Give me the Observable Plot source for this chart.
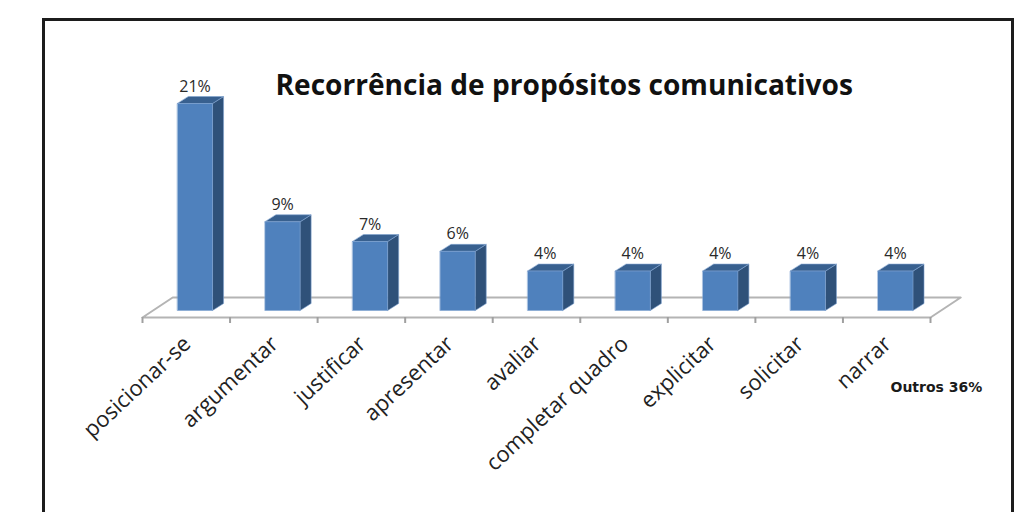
<!DOCTYPE html>
<html lang="pt">
<head>
<meta charset="utf-8">
<script src="https://cdn.jsdelivr.net/npm/d3@7"></script>
<script src="https://cdn.jsdelivr.net/npm/@observablehq/plot@0.6"></script>
<style>
  html, body { margin: 0; padding: 0; background: #fff; overflow: hidden; width: 1035px; height: 512px; }
  #box { position: absolute; left: 42px; top: 18px; width: 966px; height: 600px; border: 3px solid #1c1c1c; }
  #chart { position: absolute; left: 0; top: 0; }
</style>
</head>
<body>
<div id="box"></div>
<div id="chart"></div>
<script>
const categories = ["posicionar-se", "argumentar", "justificar", "apresentar", "avaliar", "completar quadro", "explicitar", "solicitar", "narrar"];
const percentages = [21, 9, 7, 6, 4, 4, 4, 4, 4];
const chartTitle = "Recorrência de propósitos comunicativos";
const otherNote = "Outros 36%";

// Oblique projection: how far a bar's side and the floor recede, in axis units.
const barInset = 0.4, barWidth = 0.4, barDepthX = 0.126, barDepthY = 0.71;
const floorFront = -0.71, floorBack = 1.32, floorShift = 0.345, tickDrop = -0.61;
const slots = categories.length;

const bars = categories.map((name, i) => ({name, i, value: percentages[i], x0: i + barInset, x1: i + barInset + barWidth}));

// Each visible face of a bar is a closed polygon.
const face = (corners) => bars.flatMap((b) => corners(b).map(([x, y]) => ({id: b.name, x, y})));
const frontFace = face((b) => [[b.x0, 0], [b.x1, 0], [b.x1, b.value], [b.x0, b.value]]);
const sideFace = face((b) => [[b.x1, 0], [b.x1 + barDepthX, barDepthY], [b.x1 + barDepthX, b.value + barDepthY], [b.x1, b.value]]);
const topFace = face((b) => [[b.x0, b.value], [b.x1, b.value], [b.x1 + barDepthX, b.value + barDepthY], [b.x0 + barDepthX, b.value + barDepthY]]);

const floorOutline = [
  {x: 0, y: floorFront}, {x: slots, y: floorFront},
  {x: slots + floorShift, y: floorBack}, {x: floorShift, y: floorBack}
];
const tickValues = d3.range(slots + 1);

const polygon = (rows, fill) => Plot.line(rows, {
  x: "x", y: "y", z: "id", curve: "linear-closed", fill, stroke: "#7fa3d0", strokeWidth: 0.6
});

const plot = Plot.plot({
  width: 1035,
  height: 512,
  margin: 0,
  style: {background: "transparent", overflow: "visible"},
  x: {domain: [0, slots], range: [142, 930], axis: null},
  y: {domain: [0, 21], range: [310, 103], axis: null},
  marks: [
    Plot.line(floorOutline, {x: "x", y: "y", curve: "linear-closed", stroke: "#b4b4b4", strokeWidth: 2}),
    Plot.ruleX(tickValues, {x: (d) => d, y1: floorFront, y2: tickDrop + floorFront, stroke: "#a0a0a0", strokeWidth: 2}),
    polygon(sideFace, "#2f5179"),
    polygon(topFace, "#38608f"),
    polygon(frontFace, "#4f81bd"),
    Plot.text(bars, {
      x: (d) => d.x0 + barWidth / 2, y: "value", text: (d) => `${d.value}%`,
      dy: -17, fontSize: 16, fill: "#2a2a2a", fontFamily: "'Open Sans', sans-serif"
    }),
    Plot.text(bars, {
      x: (d) => d.i + 0.5, y: floorFront, text: "name", rotate: -43, textAnchor: "end",
      dx: 1, dy: 23, fontSize: 22, fill: "#222", fontFamily: "'Open Sans', sans-serif"
    }),
    Plot.text([chartTitle], {
      frameAnchor: "top-left", dx: 275, dy: 85, text: (d) => d, textAnchor: "start", lineAnchor: "middle",
      fontSize: 28.1, fontWeight: 700, fill: "#111", fontFamily: "'Open Sans', sans-serif"
    }),
    Plot.text([otherNote], {
      frameAnchor: "top-left", dx: 890, dy: 387, text: (d) => d, textAnchor: "start", lineAnchor: "middle",
      fontSize: 14, fontWeight: 700, fill: "#1a1a1a", fontFamily: "'DejaVu Sans', sans-serif"
    })
  ]
});
document.getElementById("chart").append(plot);
</script>
</body>
</html>
